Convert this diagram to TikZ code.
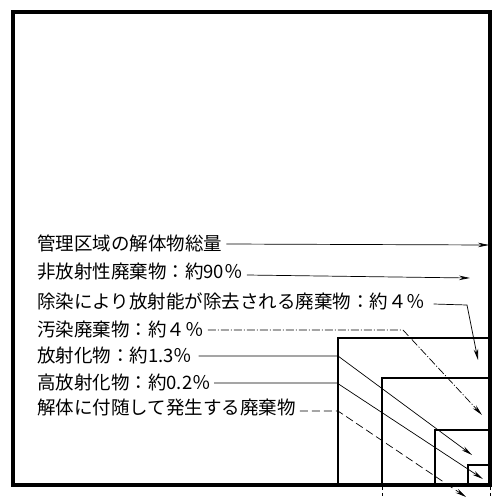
\documentclass[tikz,border=0pt]{standalone}
\usepackage{fontspec}
\setmainfont{Noto Sans CJK JP}
\usetikzlibrary{arrows.meta}
\begin{document}
\begin{tikzpicture}[x=1pt,y=-1pt,
  lbl/.style={anchor=west,inner sep=0pt,font=\fontsize{18.5}{20}\selectfont},
  conn/.style={line width=0.7pt},
  arr/.style={conn,-{Stealth[length=11pt,width=4.5pt]}},
  frame/.style={line width=3.5pt},
  innerbox/.style={line width=1.4pt},
  ext/.style={line width=0.8pt,dash pattern=on 3pt off 3pt}]
\useasboundingbox (0,0) rectangle (494,499);
% outer frame
\draw[frame] (13,12) rectangle (490,485);
\draw[line width=1.5pt] (13,486) -- (490,486);
% nested boxes
\draw[innerbox] (338,485) -- (338,338) -- (490,338);
\draw[innerbox] (382,485) -- (382,378) -- (490,378);
\draw[innerbox] (435,485) -- (435,430) -- (490,430);
\draw[innerbox] (468,485) -- (468,465) -- (490,465);
% extensions below the frame
\draw[ext] (382,487) -- (382,499);
\draw[ext] (490,487) -- (490,499);
% labels
\node[lbl] (t1) at (37,243) {管理区域の解体物総量};
\node[lbl] (t2) at (37,272) {非放射性廃棄物：約90％};
\node[lbl] (t3) at (37,301) {除染により放射能が除去される廃棄物：約４％};
\node[lbl] (t4) at (37,329) {汚染廃棄物：約４％};
\node[lbl] (t5) at (37,355) {放射化物：約1.3％};
\node[lbl] (t6) at (37,382) {高放射化物：約0.2％};
\node[lbl] (t7) at (37,408) {解体に付随して発生する廃棄物};
% bend and end coordinates
\coordinate (e1) at (489,245);
\coordinate (e2) at (470,278);
\coordinate (b3) at (467,305);
\coordinate (e3) at (478,360);
\coordinate (b4) at (403,330);
\coordinate (e4) at (482,415);
\coordinate (b5) at (338,356);
\coordinate (e5) at (472,455);
\coordinate (b6) at (337,383);
\coordinate (e6) at (483,479);
\coordinate (b7) at (338,411);
\coordinate (e7) at (466,497);
% connectors
\draw[arr] ([xshift=4pt,yshift=-1pt]t1.east) -- (e1);
\draw[arr] ([xshift=4pt,yshift=-3pt]t2.east) -- (e2);
\draw[arr] ([xshift=8pt,yshift=-3pt]t3.east) -- (b3) -- (e3);
\draw[arr,dash pattern=on 8pt off 2pt on 1pt off 2pt] ([xshift=4pt,yshift=-1pt]t4.east) -- (b4) -- (e4);
\draw[arr] ([xshift=6pt,yshift=-1pt]t5.east) -- (b5) -- (e5);
\draw[arr] ([xshift=3pt,yshift=-1pt]t6.east) -- (b6) -- (e6);
\draw[arr,dash pattern=on 8pt off 4pt] ([xshift=4pt,yshift=-3pt]t7.east) -- (b7) -- (e7);
\end{tikzpicture}
\end{document}
